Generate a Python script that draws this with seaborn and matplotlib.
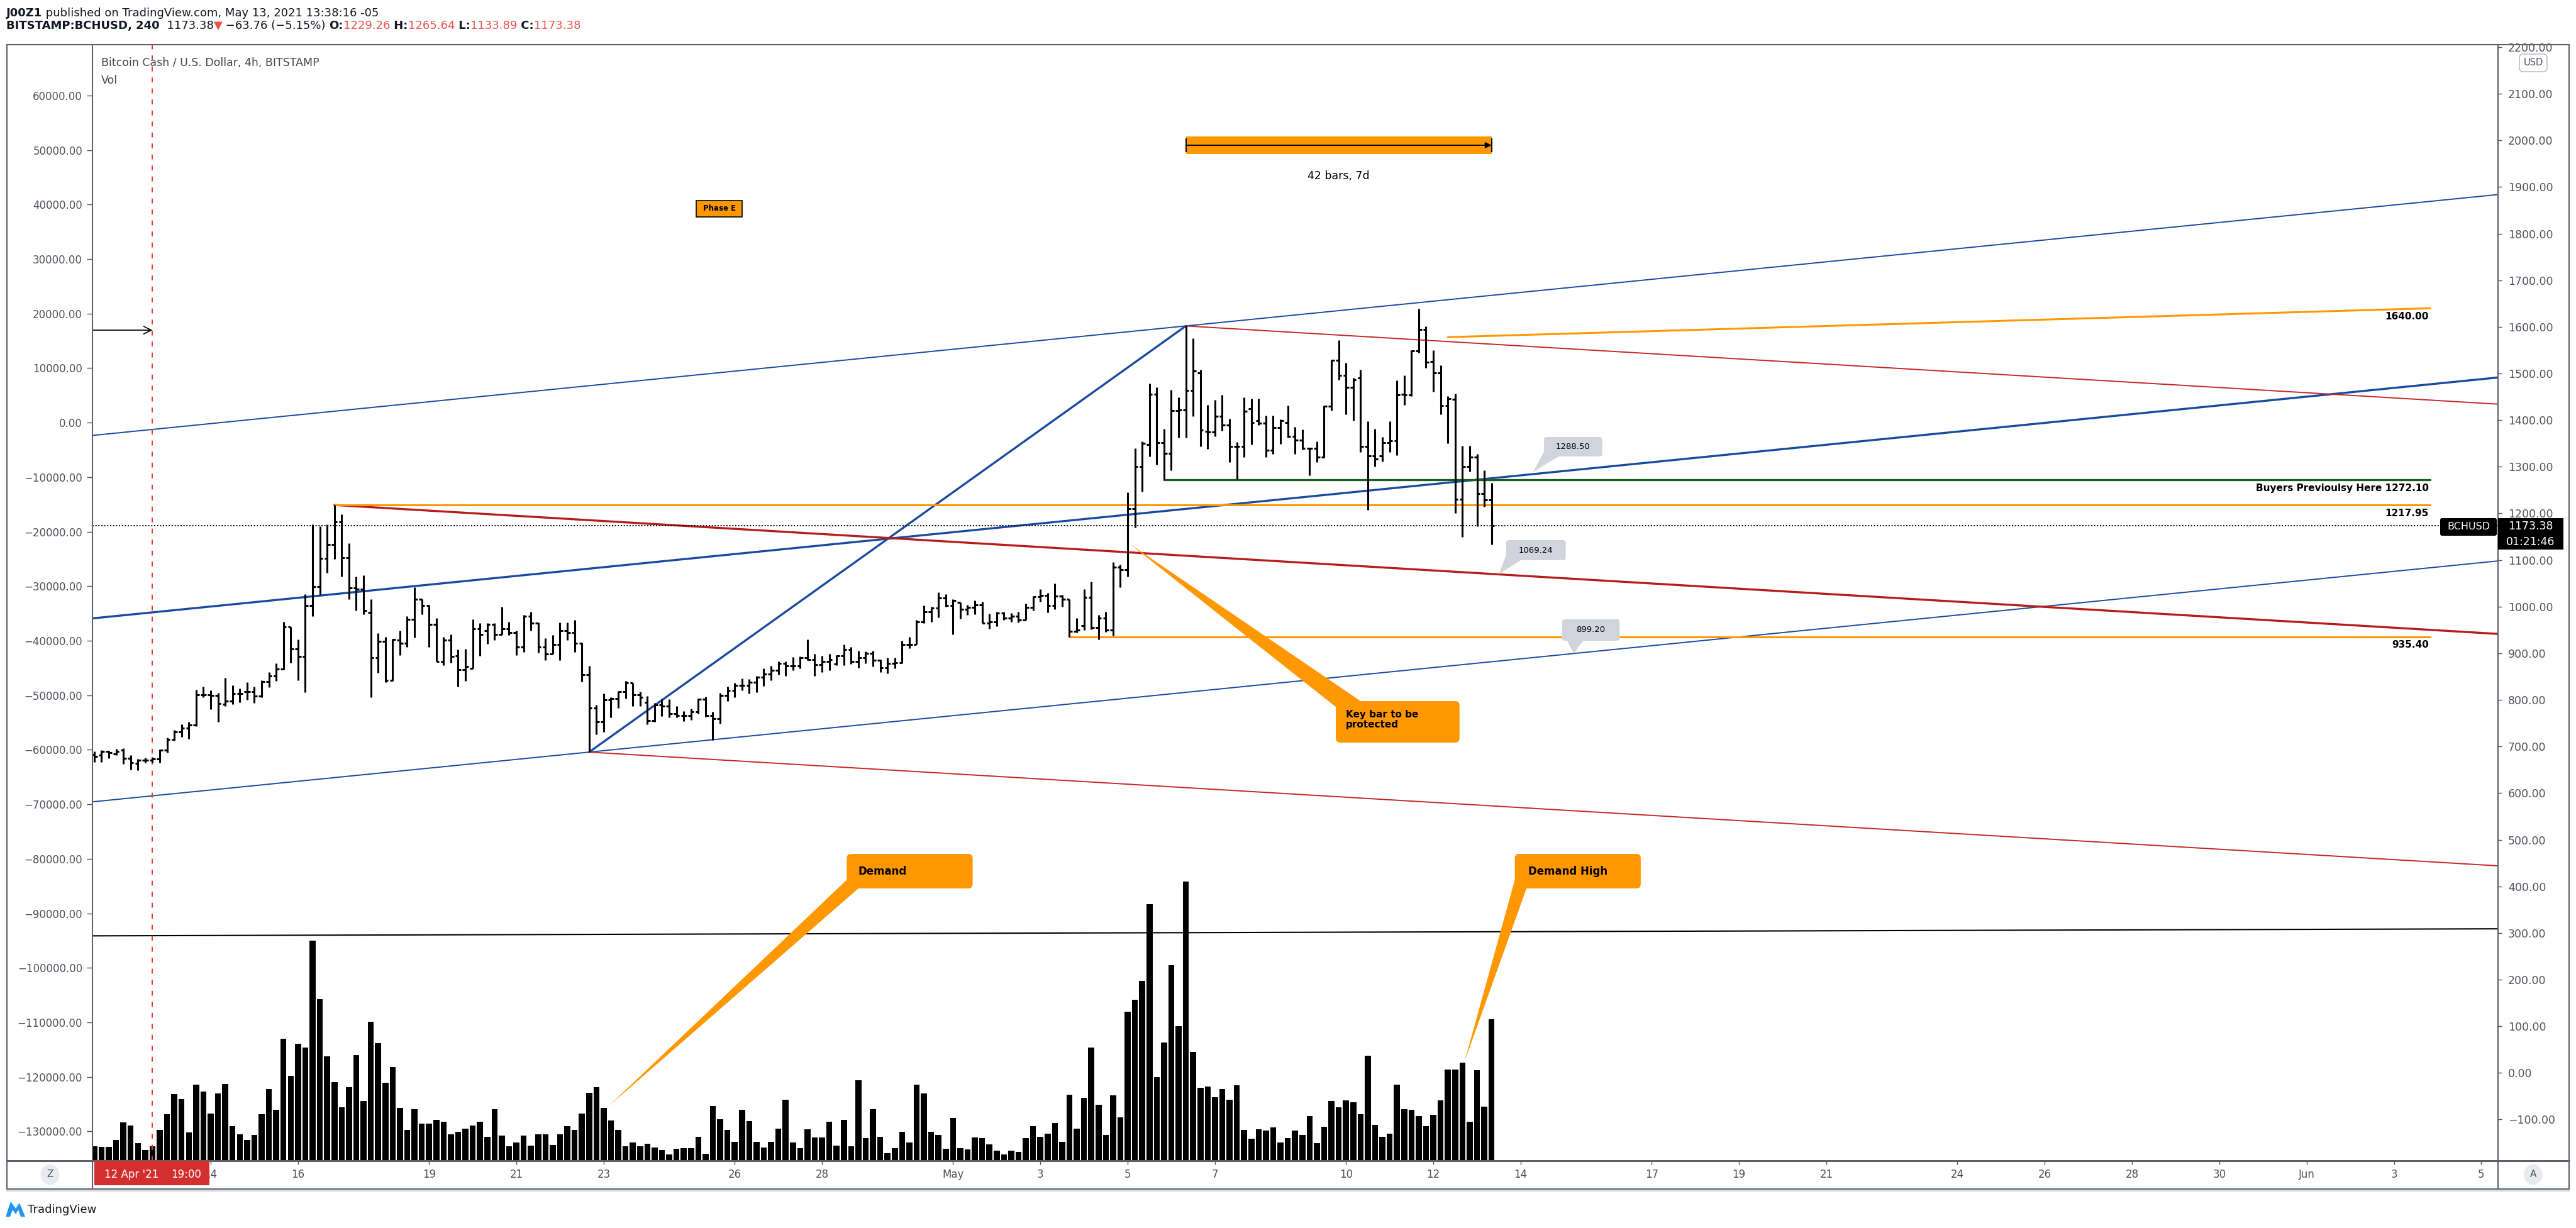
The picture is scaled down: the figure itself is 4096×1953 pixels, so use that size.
import numpy as np
import matplotlib
matplotlib.use("Agg")
import matplotlib.pyplot as plt
import seaborn as sns
from matplotlib.patches import FancyBboxPatch, Rectangle, Polygon, Ellipse
from matplotlib.lines import Line2D

# BITSTAMP:BCHUSD, 4h bars; bar 0 = 11 Apr 2021 11:00 (UTC-5), last bar = 13 May 11:00
opens = [683, 681, 690, 684, 692, 675, 664, 670, 671, 674,
         692, 715, 732, 739, 746, 811, 811, 809, 791, 798,
         814, 817, 818, 808, 839, 851, 866, 956, 910, 893,
         1002, 1043, 1104, 1133, 1182, 1105, 1040, 1038, 988, 891,
         926, 842, 928, 921, 973, 1016, 1002, 962, 883, 928,
         894, 865, 867, 953, 948, 962, 941, 953, 944, 913,
         980, 965, 913, 899, 919, 948, 944, 921, 854, 782,
         753, 800, 803, 817, 836, 811, 795, 755, 789, 787,
         771, 767, 767, 774, 802, 766, 759, 809, 820, 831,
         831, 838, 849, 855, 864, 878, 873, 873, 891, 887,
         876, 883, 877, 895, 908, 883, 890, 900, 885, 869,
         878, 880, 919, 919, 967, 989, 997, 1019, 1003, 1009,
         994, 998, 1004, 964, 968, 986, 975, 980, 971, 998,
         1021, 1024, 1003, 1022, 1016, 947, 959, 1020, 955, 976,
         950, 1085, 1079, 1210, 1300, 1347, 1455, 1352, 1329, 1420,
         1422, 1463, 1502, 1376, 1374, 1408, 1389, 1343, 1343, 1425,
         1399, 1394, 1336, 1384, 1395, 1365, 1357, 1339, 1339, 1320,
         1430, 1529, 1496, 1470, 1491, 1343, 1323, 1323, 1352, 1356,
         1456, 1454, 1548, 1595, 1526, 1502, 1431, 1445, 1230, 1301,
         1320, 1243, 1229.26]
highs = [690, 692, 691, 695, 696, 682, 674, 676, 677, 694,
         719, 735, 748, 753, 822, 828, 820, 815, 847, 831,
         825, 838, 829, 842, 860, 878, 967, 957, 930, 1027,
         1176, 1173, 1177, 1218, 1198, 1136, 1065, 1067, 1016, 943,
         935, 931, 949, 979, 1042, 1016, 1004, 975, 935, 941,
         908, 909, 973, 965, 964, 965, 1000, 967, 948, 982,
         989, 966, 932, 939, 966, 966, 971, 923, 873, 789,
         813, 805, 819, 841, 837, 818, 808, 793, 801, 802,
         787, 776, 781, 803, 807, 775, 815, 828, 836, 846,
         845, 851, 867, 873, 883, 883, 892, 893, 930, 899,
         894, 899, 896, 919, 914, 905, 904, 905, 886, 890,
         890, 927, 935, 971, 1003, 1000, 1031, 1027, 1016, 1009,
         1004, 1013, 1011, 985, 989, 989, 986, 989, 1007, 1022,
         1038, 1030, 1049, 1025, 1016, 976, 1038, 1054, 982, 989,
         1096, 1090, 1245, 1340, 1355, 1479, 1470, 1382, 1465, 1449,
         1602, 1575, 1508, 1433, 1443, 1454, 1403, 1353, 1449, 1446,
         1446, 1410, 1410, 1402, 1431, 1385, 1380, 1341, 1354, 1431,
         1530, 1571, 1523, 1490, 1508, 1398, 1382, 1364, 1397, 1485,
         1496, 1550, 1639, 1601, 1550, 1517, 1451, 1457, 1345, 1345,
         1327, 1292, 1265.64]
lows = [667, 667, 675, 681, 663, 651, 649, 665, 665, 665,
        687, 712, 721, 717, 744, 806, 780, 753, 786, 791,
        795, 800, 794, 806, 827, 841, 865, 880, 842, 816,
        980, 1025, 1073, 1102, 1065, 1016, 991, 984, 806, 858,
        838, 840, 896, 914, 934, 983, 914, 883, 874, 880,
        828, 840, 867, 894, 920, 928, 941, 939, 896, 903,
        948, 901, 885, 899, 885, 928, 903, 839, 688, 726,
        732, 763, 783, 803, 787, 787, 747, 753, 765, 763,
        762, 754, 757, 771, 764, 714, 749, 798, 805, 820,
        813, 816, 830, 842, 854, 851, 863, 867, 885, 851,
        859, 864, 874, 874, 877, 869, 878, 872, 859, 857,
        867, 878, 911, 919, 964, 968, 977, 1000, 940, 974,
        982, 984, 964, 952, 958, 971, 967, 966, 971, 992,
        1011, 988, 994, 1000, 935, 944, 950, 951, 930, 946,
        937, 1042, 1065, 1170, 1246, 1322, 1304, 1272, 1293, 1363,
        1363, 1408, 1344, 1338, 1365, 1377, 1310, 1273, 1321, 1347,
        1389, 1321, 1328, 1349, 1362, 1328, 1337, 1281, 1310, 1319,
        1420, 1487, 1413, 1399, 1332, 1208, 1301, 1311, 1332, 1325,
        1433, 1452, 1545, 1512, 1461, 1412, 1350, 1201, 1150, 1290,
        1173, 1214, 1133.89]
closes = [679, 690, 687, 690, 675, 665, 670, 670, 674, 692,
          715, 732, 739, 746, 811, 811, 809, 792, 797, 813,
          814, 818, 808, 839, 851, 866, 956, 910, 893, 1002,
          1043, 1104, 1133, 1182, 1105, 1040, 1038, 991, 891, 926,
          842, 929, 921, 973, 1016, 1002, 962, 883, 928, 893,
          865, 872, 953, 941, 962, 941, 953, 944, 913, 980,
          965, 913, 899, 919, 948, 944, 921, 854, 782, 753,
          800, 803, 817, 836, 811, 805, 755, 789, 787, 771,
          767, 767, 774, 802, 766, 759, 809, 820, 831, 831,
          838, 849, 855, 864, 878, 873, 873, 891, 887, 876,
          883, 886, 895, 908, 883, 890, 900, 885, 869, 878,
          880, 919, 919, 967, 989, 997, 1019, 1003, 1013, 994,
          998, 1004, 964, 968, 986, 975, 980, 971, 998, 1021,
          1024, 1003, 1022, 1016, 947, 950, 1020, 955, 976, 950,
          1085, 1079, 1210, 1300, 1350, 1455, 1352, 1329, 1420, 1422,
          1463, 1506, 1379, 1374, 1408, 1389, 1343, 1343, 1419, 1395,
          1394, 1336, 1384, 1399, 1365, 1357, 1339, 1339, 1320, 1430,
          1528, 1496, 1470, 1487, 1343, 1323, 1316, 1352, 1356, 1454,
          1454, 1548, 1595, 1524, 1502, 1431, 1446, 1230, 1301, 1320,
          1243, 1229.26, 1173.38]
# Vol overlay, thousands on the left-hand scale
volumes = [2.6, 2.5, 2.5, 3.8, 7.0, 6.5, 3.2, 2.0, 2.7, 5.7,
           8.5, 12.2, 11.3, 5.2, 14.0, 12.7, 8.7, 12.3, 14.1, 6.4,
           4.8, 3.8, 4.7, 8.5, 13.1, 9.3, 22.4, 15.6, 21.4, 20.8,
           40.4, 29.6, 19.1, 14.4, 9.8, 13.5, 19.4, 11.0, 25.5, 21.6,
           14.3, 17.2, 9.7, 5.7, 9.4, 6.8, 6.8, 7.5, 7.1, 4.8,
           5.3, 5.9, 6.5, 7.2, 4.4, 9.4, 4.6, 2.6, 3.3, 4.6,
           2.8, 4.9, 4.9, 2.9, 4.8, 6.4, 5.7, 8.7, 12.4, 13.5,
           9.7, 7.4, 5.7, 2.7, 3.4, 2.6, 3.1, 2.4, 2.0, 1.2,
           2.2, 2.3, 2.3, 4.4, 1.3, 10.0, 7.6, 5.7, 3.5, 9.3,
           7.3, 3.5, 2.4, 3.5, 5.9, 11.2, 3.4, 2.3, 5.8, 4.3,
           4.3, 7.1, 2.8, 7.5, 2.7, 14.8, 4.1, 9.5, 4.4, 1.4,
           2.3, 5.3, 3.3, 14.0, 12.3, 5.3, 4.7, 2.2, 7.8, 2.3,
           2.1, 4.3, 4.1, 3.0, 1.9, 1.2, 1.8, 1.6, 4.2, 6.3,
           4.4, 5.0, 6.9, 3.5, 12.1, 5.9, 11.5, 20.8, 10.3, 4.7,
           12.0, 8.0, 27.3, 29.5, 33.0, 47.0, 15.3, 21.7, 35.9, 24.7,
           51.2, 20.0, 13.4, 13.6, 11.6, 13.2, 11.2, 13.8, 5.7, 4.0,
           5.8, 5.5, 6.1, 3.3, 4.1, 5.5, 4.7, 8.2, 3.2, 6.2,
           10.9, 9.8, 11.1, 10.7, 8.5, 19.3, 6.6, 4.4, 5.0, 14.0,
           9.5, 9.3, 8.2, 6.3, 8.4, 11.1, 16.7, 16.7, 18.0, 7.1,
           16.6, 9.9, 26.0]

tick_bars = [16, 28, 46, 58, 70, 88, 100, 118, 130, 142, 154, 172, 184,
             196, 214, 226, 238, 256, 268, 280, 292, 304, 316, 328]
tick_labels = ['14', '16', '19', '21', '23', '26', '28', 'May', '3', '5', '7', '10', '12',
               '14', '17', '19', '21', '24', '26', '28', '30', 'Jun', '3', '5']

last_price = 1173.38
level_1640 = 1640.00
level_buyers = 1272.10
level_1217 = 1217.95
level_935 = 935.40

sns.set_theme(style="ticks")
plt.rcParams['font.family'] = ['DejaVu Sans']

W, H = 4096, 1953
GRAY = '#50535E'
ORANGE = '#FF9800'
BLUE = '#1A4AA0'
RED = '#C62828'
DRED = '#B71C1C'
GREEN = '#1B5E20'

fig = plt.figure(figsize=(W / 100, H / 100), dpi=100)
fig.patch.set_facecolor('white')

ax = fig.add_axes([147 / W, 1 - 1846 / H, 3825 / W, 1774 / H])
ax2 = ax.twinx()
ax.set_zorder(ax2.get_zorder() + 1)
ax.patch.set_visible(False)

bars = np.arange(len(opens))

# volume on the left-hand scale
sns.barplot(x=bars, y=np.array(volumes) * 1000, native_scale=True, orient='x',
            color='black', saturation=1, width=0.82, errorbar=None,
            bottom=-135370, linewidth=0, ax=ax2)
ax2.set_ylim(-135370, 69219)
ax2.set_xlabel('')
ax2.set_ylabel('')

# OHLC bars
ax.vlines(bars, lows, highs, color='black', lw=2.2, zorder=4)
ax.hlines(opens, bars - 0.4, bars, color='black', lw=2.2, zorder=4)
ax.hlines(closes, bars, bars + 0.4, color='black', lw=2.2, zorder=4)

ax.set_xlim(-0.25, 330.3)
ax.set_ylim(-188.4, 2204.0)

# channel (blue) and fan (red) lines
ax.axline((150, highs[150]), slope=1.563, color=BLUE, lw=1.4, zorder=3)
ax.axline((0, 975.2), slope=1.563, color=BLUE, lw=2.4, zorder=3)
ax.axline((68, lows[68]), slope=1.563, color=BLUE, lw=1.4, zorder=3)
ax.plot([68, 150], [lows[68], highs[150]], color=BLUE, lw=2.4, zorder=3)
ax.plot([150, 331], [highs[150], highs[150] - 0.93 * 181], color=RED, lw=1.4, zorder=3)
ax.plot([33, 331], [highs[33], highs[33] - 0.93 * 298], color=DRED, lw=2.4, zorder=3)
ax.plot([68, 331], [lows[68], lows[68] - 0.93 * 263], color=RED, lw=1.4, zorder=3)
ax.plot([-0.25, 330.3], [293.9, 309.0], color='black', lw=1.5, zorder=3)

# horizontal levels
ax.plot([186, 321], [1578, level_1640], color=ORANGE, lw=2.2, zorder=3)
ax.plot([33, 321], [level_1217, level_1217], color=ORANGE, lw=2.2, zorder=3)
ax.plot([134, 321], [level_935, level_935], color=ORANGE, lw=2.2, zorder=3)
ax.plot([147, 321], [level_buyers, level_buyers], color=GREEN, lw=2.4, zorder=3)
for y, s in [(level_1640, '1640.00'), (level_1217, '1217.95'), (level_935, '935.40'),
             (level_buyers, 'Buyers Previoulsy Here 1272.10')]:
    ax.annotate(s, (321, y), xytext=(-2, -4), textcoords='offset points', ha='right', va='top',
                fontsize=11, fontweight='bold', color='black', zorder=6)

# last price line, crosshair, arrow
ax.axhline(last_price, color='black', lw=1.4, ls=(0, (1, 1.4)), zorder=3)
ax.axvline(8, color='#E53935', lw=1.4, ls=(0, (4, 5)), zorder=3)
ax.annotate('', xy=(8, 1593), xytext=(-0.25, 1593),
            arrowprops=dict(arrowstyle='->', color='black', lw=1.2, mutation_scale=22,
                            shrinkA=0, shrinkB=0), zorder=4)

# date range measure
ax.add_patch(Rectangle((150, 1970.7), 42, 37.8, fc=ORANGE, ec='none', zorder=4))
ax.annotate('', xy=(192, 1989.6), xytext=(150, 1989.6),
            arrowprops=dict(arrowstyle='-|>', color='black', lw=1.4, mutation_scale=14,
                            shrinkA=0, shrinkB=0), zorder=5)
ax.vlines([150, 192], 1975, 2004, color='black', lw=1.4, zorder=5)
ax.text(171, 1923.6, '42 bars, 7d', ha='center', va='center', fontsize=12.5, color='black', zorder=5)

# Phase E label
ax.add_patch(Rectangle((82.75, 1835.9), 6.3, 35, fc=ORANGE, ec='black', lw=1.2, zorder=4))
ax.text(85.9, 1853.4, 'Phase E', ha='center', va='center', fontsize=8.5, fontweight='bold',
        color='black', zorder=5)

ASPECT = 15.6


def callout(box, tip, base, text, fc, size, weight, text_xy, ha='left', rnd=0.6):
    x0, y0, x1, y1 = box
    ax.add_patch(Polygon([tip, base[0], base[1]], closed=True, fc=fc, ec='none', zorder=5))
    ax.add_patch(FancyBboxPatch((x0, y0), x1 - x0, y1 - y0,
                                boxstyle=f'round,pad=0,rounding_size={rnd}',
                                mutation_aspect=ASPECT, fc=fc, ec='none', zorder=6))
    ax.text(text_xy[0], text_xy[1], text, ha=ha, va='center', fontsize=size,
            fontweight=weight, color='black', zorder=7, linespacing=1.1)


NOTE = '#D1D4DC'
callout((199.2, 1322.1, 207.2, 1363.9), (197.7, 1288.5), [(199.2, 1332), (201.2, 1322.1)],
        '1288.50', NOTE, 9.5, 'normal', (203.2, 1343), ha='center', rnd=0.35)
callout((194.0, 1099.6, 202.2, 1142.6), (193.0, 1069.24), [(194.0, 1110), (196.0, 1099.6)],
        '1069.24', NOTE, 9.5, 'normal', (198.1, 1121), ha='center', rnd=0.35)
callout((201.7, 926.9, 209.6, 972.8), (203.3, 899.2), [(202.4, 926.9), (204.6, 926.9)],
        '899.20', NOTE, 9.5, 'normal', (205.65, 950), ha='center', rnd=0.35)

callout((170.6, 708.4, 187.6, 797.4), (142.3, 1134.5), [(170.6, 785), (174.0, 797.4)],
        'Key bar to be\nprotected', ORANGE, 11, 'bold', (172.0, 758))
callout((103.4, 395.6, 120.7, 469.7), (70.6, -72.5), [(103.4, 414), (105.0, 395.6)],
        'Demand', ORANGE, 12, 'bold', (105.0, 432))
callout((195.2, 395.6, 212.5, 469.7), (188.3, 24.7), [(195.2, 414), (196.8, 395.6)],
        'Demand High', ORANGE, 12, 'bold', (197.0, 432))

# axes styling
for a in (ax, ax2):
    for sp in a.spines.values():
        sp.set_visible(False)

right_ticks = np.arange(-100, 2201, 100)
ax.yaxis.tick_right()
ax.set_yticks(right_ticks)
ax.set_yticklabels([f'{v:.2f}'.replace('-', '\u2212') for v in right_ticks])
ax.tick_params(axis='y', right=True, left=False, labelright=True, labelleft=False,
               length=4.3, width=1, color=GRAY, labelcolor=GRAY, labelsize=12.5, pad=7)

left_ticks = np.arange(-130000, 60001, 10000)
ax2.yaxis.tick_left()
ax2.set_yticks(left_ticks)
ax2.set_yticklabels([f'{v:.2f}'.replace('-', '\u2212') for v in left_ticks])
ax2.tick_params(axis='y', left=True, right=False, labelleft=True, labelright=False,
                length=6.5, width=1, color=GRAY, labelcolor=GRAY, labelsize=12, pad=5)

ax.set_xticks(tick_bars)
ax.set_xticklabels(tick_labels)
ax.tick_params(axis='x', bottom=True, length=4.3, width=1, color=GRAY, labelcolor=GRAY,
               labelsize=12, pad=5)
ax.set_xlabel('')
ax.set_ylabel('')


# figure furniture (pixel coordinates)
def fig_line(x0, y0, x1, y1, **kw):
    fig.add_artist(Line2D([x0 / W, x1 / W], [1 - y0 / H, 1 - y1 / H],
                          transform=fig.transFigure, **kw))


def fig_rect(x0, y0, x1, y1, rnd=None, **kw):
    if rnd is None:
        p = Rectangle((x0 / W, 1 - y1 / H), (x1 - x0) / W, (y1 - y0) / H,
                      transform=fig.transFigure, **kw)
    else:
        p = FancyBboxPatch((x0 / W, 1 - y1 / H), (x1 - x0) / W, (y1 - y0) / H,
                           boxstyle=f'round,pad=0,rounding_size={rnd / W}',
                           mutation_aspect=W / H, transform=fig.transFigure, **kw)
    fig.add_artist(p)


def fig_text(x, y, s, **kw):
    return fig.text(x / W, 1 - y / H, s, **kw)


fig_rect(3973, 0, 4095, 70, fc='white', ec='none', zorder=1)
FRAME = '#5D606B'
fig_line(11, 71, 4085, 71, color=FRAME, lw=1.5)
fig_line(11, 71, 11, 1891, color=FRAME, lw=1.5)
fig_line(4085, 71, 4085, 1891, color=FRAME, lw=1.5)
fig_line(11, 1891, 4085, 1891, color=FRAME, lw=1.5)
fig_line(11, 1894, 4085, 1894, color='#D1D4DC', lw=1.5)
fig_line(11, 1846, 4085, 1846, color=FRAME, lw=2.2)
fig_line(147, 71, 147, 1891, color=FRAME, lw=1.5)
fig_line(3972, 71, 3972, 1891, color=FRAME, lw=1.5)

# header
renderer = fig.canvas.get_renderer()


def pieces(x, y, parts, size):
    for s, weight, color in parts:
        t = fig_text(x, y, s, fontsize=size, fontweight=weight, color=color, ha='left', va='center')
        x += t.get_window_extent(renderer=renderer).width


DARK = '#131722'
TRED = '#EF5350'
pieces(10, 21, [('J00Z1', 'bold', DARK),
                (' published on TradingView.com, May 13, 2021 13:38:16 -05', 'normal', DARK)], 13)
pieces(10, 41, [('BITSTAMP:BCHUSD, 240', 'bold', DARK), ('  1173.38', 'normal', DARK),
                ('\u25bc', 'normal', TRED), (' \u221263.76 (\u22125.15%) ', 'normal', DARK),
                ('O:', 'bold', DARK), ('1229.26', 'normal', TRED),
                (' H:', 'bold', DARK), ('1265.64', 'normal', TRED),
                (' L:', 'bold', DARK), ('1133.89', 'normal', TRED),
                (' C:', 'bold', DARK), ('1173.38', 'normal', TRED)], 13)

fig_text(161, 100, 'Bitcoin Cash / U.S. Dollar, 4h, BITSTAMP', fontsize=12.5, color='#434651',
         ha='left', va='center')
fig_text(161, 128, 'Vol', fontsize=12.5, color='#434651', ha='left', va='center')

# right scale badges
fig_rect(4006, 86, 4050, 114, rnd=6, fc='white', ec='#B2B5BE', lw=1.0, zorder=2)
fig_text(4028, 100, 'USD', fontsize=10.5, color=GRAY, ha='center', va='center', zorder=3)
fig_rect(3972, 824, 4076, 874, fc='black', ec='none', zorder=2)
fig_text(4024, 837, '1173.38', fontsize=12.5, color='white', ha='center', va='center', zorder=3)
fig_text(4024, 862, '01:21:46', fontsize=12.5, color='white', ha='center', va='center', zorder=3)
fig_rect(3880, 824, 3970, 852, rnd=3, fc='black', ec='none', zorder=2)
fig_text(3925, 838, 'BCHUSD', fontsize=11.5, color='white', ha='center', va='center', zorder=3)

# time axis extras
fig_rect(150, 1846, 333, 1885, fc='#D32F2F', ec='none', zorder=2)
fig_text(209, 1868, "12 Apr '21", fontsize=12, color='white', ha='center', va='center', zorder=3)
fig_text(296, 1868, '19:00', fontsize=12, color='white', ha='center', va='center', zorder=3)
fig.add_artist(Ellipse((79.5 / W, 1 - 1868 / H), 30 / W, 32 / H, transform=fig.transFigure,
                       fc='#E9EAEE', ec='none', zorder=2))
fig_text(79.5, 1868, 'Z', fontsize=11, color=GRAY, ha='center', va='center', zorder=3)
fig.add_artist(Ellipse((4028 / W, 1 - 1868 / H), 30 / W, 32 / H, transform=fig.transFigure,
                       fc='#E9EAEE', ec='none', zorder=2))
fig_text(4028, 1868, 'A', fontsize=11, color=GRAY, ha='center', va='center', zorder=3)

# TradingView mark
logo = [(9, 1935), (17, 1911), (25, 1922), (31, 1913), (40, 1935), (33, 1935), (29, 1924),
        (25, 1931), (20, 1924), (16, 1935)]
fig.add_artist(Polygon([(px / W, 1 - py / H) for px, py in logo], closed=True,
                       transform=fig.transFigure, fc='#2196F3', ec='none'))
fig_text(44, 1924, 'TradingView', fontsize=13, color=DARK, ha='left', va='center')

fig.savefig('out.png', dpi=100, facecolor='white')
